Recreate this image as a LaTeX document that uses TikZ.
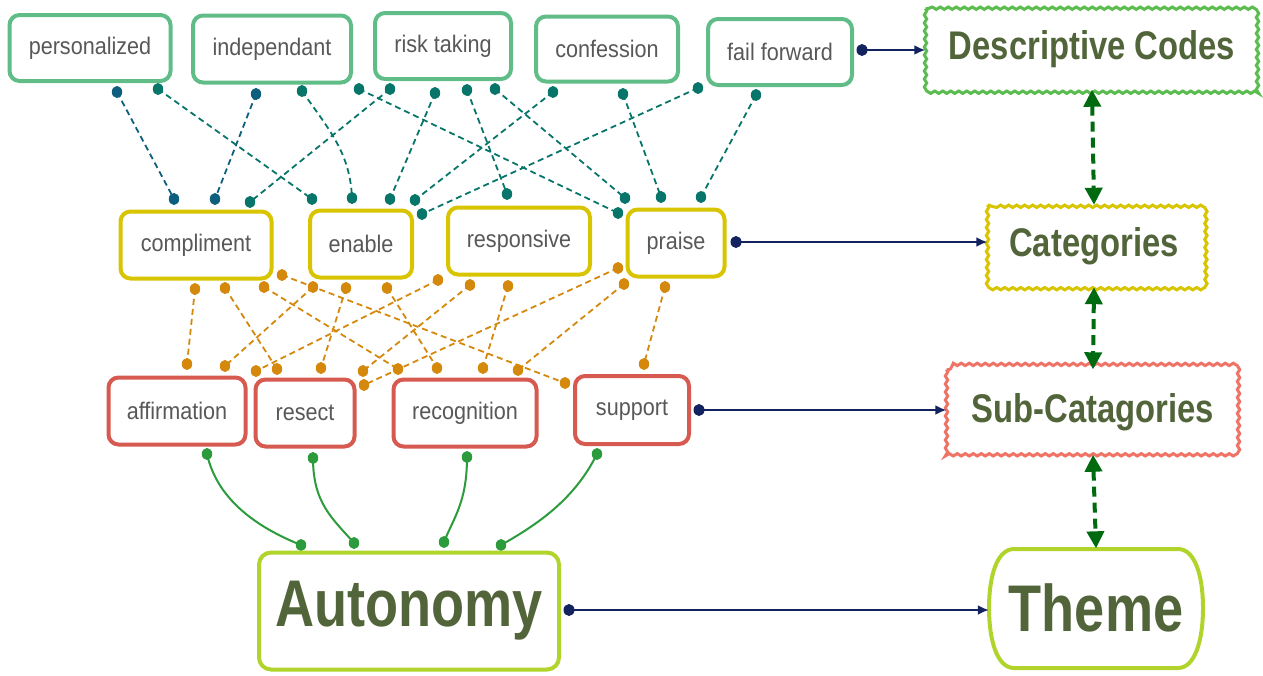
\documentclass[tikz,border=0pt]{standalone}
\usepackage{fontspec}
\setmainfont{Liberation Sans}
\newfontfamily\labelfont[FakeStretch=0.9]{Liberation Sans}
\newfontfamily\headfont[FakeStretch=0.82]{Liberation Sans Bold}
\usetikzlibrary{arrows.meta,decorations.pathmorphing}

\definecolor{codegreen}{HTML}{61BD88}
\definecolor{catyellow}{HTML}{D8C400}
\definecolor{subred}{HTML}{D65A50}
\definecolor{themelime}{HTML}{B1D42C}
\definecolor{cloudgreen}{HTML}{5CBC50}
\definecolor{cloudsalmon}{HTML}{EF7468}
\definecolor{headolive}{HTML}{52653A}
\definecolor{txtgray}{HTML}{585858}
\definecolor{tealline}{HTML}{08756A}
\definecolor{blueteal}{HTML}{0E5F7D}
\definecolor{ochre}{HTML}{D4880C}
\definecolor{leafgreen}{HTML}{2B9B3B}
\definecolor{navy}{HTML}{13235F}
\definecolor{darkgreen}{HTML}{006A10}

\tikzset{
  box/.style={line width=4pt, rounded corners=10pt, fill=white, inner sep=0pt,
    font={\labelfont\fontsize{24}{28}\selectfont}, text=txtgray, minimum height=67pt},
  codebox/.style={box, draw=codegreen},
  catbox/.style={box, draw=catyellow},
  subbox/.style={box, draw=subred},
  cloudlabel/.style={inner sep=0pt,
    font={\headfont\fontsize{40}{46}\selectfont}, text=headolive},
  cloudrim/.style={line width=3pt, fill=white,
    decorate, decoration={snake, segment length=8pt, amplitude=1.2pt}},
  biglabel/.style={inner sep=0pt,
    font={\headfont\fontsize{66}{72}\selectfont}, text=headolive},
  bigbox/.style={biglabel, draw=themelime, line width=4pt, fill=white},
  tealdash/.style={draw=tealline, line width=1.8pt, dash pattern=on 6pt off 4pt},
  bluedash/.style={draw=blueteal, line width=1.8pt, dash pattern=on 6pt off 4pt},
  ochredash/.style={draw=ochre, line width=1.8pt, dash pattern=on 6pt off 4pt},
  leafline/.style={draw=leafgreen, line width=2pt},
  navyarrow/.style={draw=navy, line width=2pt, -{Latex[length=11pt,width=10pt]}},
  levelarrow/.style={draw=darkgreen, line width=4pt, dash pattern=on 10pt off 6pt,
    {Triangle[length=17pt,width=17pt]}-{Triangle[length=17pt,width=17pt]}},
  enddot/.style={x radius=5.2pt, y radius=6pt},
}

\begin{document}
\begin{tikzpicture}[x=1pt,y=-1pt]
\useasboundingbox (0,0) rectangle (1263,675);

% ---- connector end points ----
\foreach \n/\x/\y in {
  t1a/117/92, t1b/174/199, t2a/158/89, t2b/312/199, t3a/256/94, t3b/215/199,
  t4a/302/91, t4b/352/198, t5a/359/89, t5b/618/213, t6a/390/89, t6b/250/202,
  t7a/435/93, t7b/390/199, t8a/467/90, t8b/507/194, t9a/495/89, t9b/625/198,
  t10a/553/92, t10b/415/200, t11a/623/94, t11b/661/197, t12a/698/88, t12b/422/214,
  t13a/756/95, t13b/701/197,
  o1a/195/289, o1b/187/364, o2a/225/288, o2b/277/369, o3a/264/287, o3b/398/369,
  o4a/282/275, o4b/565/383, o5a/313/287, o5b/225/366, o6a/346/288, o6b/321/368,
  o7a/387/288, o7b/437/368, o8a/438/280, o8b/256/371, o9a/470/285, o9b/363/371,
  o10a/508/286, o10b/483/368, o11a/618/268, o11b/364/385, o12a/624/284, o12b/518/370,
  o13a/665/287, o13b/644/364,
  g1a/207/454, g1b/301/545, g2a/313/458, g2b/354/543, g3a/467/457, g3b/444/542,
  g4a/597/454, g4b/501/545,
  b1/862/50, b2/736/242, b3/699/410, b4/569/610}
  \coordinate (\n) at (\x,\y);

% ---- dashed links: descriptive codes to categories ----
\draw[bluedash] (t1a) -- (t1b);
\draw[bluedash] (t3a) -- (t3b);
\foreach \i in {2,5,6,7,8,9,10,11,12,13}
  \draw[tealdash] (t\i a) -- (t\i b);
\draw[tealdash] (t4a) .. controls +(28,40) and +(-2,-45) .. (t4b);

% ---- dashed links: categories to sub-categories ----
\foreach \i in {1,...,13}
  \draw[ochredash] (o\i a) -- (o\i b);

% ---- links: sub-categories to the theme ----
\draw[leafline] (g1a) .. controls +(10,45) and +(-45,-18) .. (g1b);
\draw[leafline] (g2a) .. controls +(0,45) and +(-22,-25) .. (g2b);
\draw[leafline] (g3a) .. controls +(0,45) and +(10,-25) .. (g3b);
\draw[leafline] (g4a) .. controls +(-20,40) and +(45,-25) .. (g4b);

% ---- end dots ----
\foreach \n in {t1a,t1b,t3a,t3b}
  \fill[blueteal] (\n) ellipse [enddot];
\foreach \i in {2,4,5,6,7,8,9,10,11,12,13}{
  \fill[tealline] (t\i a) ellipse [enddot];
  \fill[tealline] (t\i b) ellipse [enddot];}
\foreach \i in {1,...,13}{
  \fill[ochre] (o\i a) ellipse [enddot];
  \fill[ochre] (o\i b) ellipse [enddot];}
\foreach \i in {1,...,4}{
  \fill[leafgreen] (g\i a) ellipse [enddot];
  \fill[leafgreen] (g\i b) ellipse [enddot];}

% ---- descriptive codes ----
\node[codebox, minimum width=161pt, minimum height=66pt] (pers)  at (90,48)  {personalized};
\node[codebox, minimum width=158pt] (indep) at (272,49) {independant};
\node[codebox, minimum width=136pt, minimum height=66pt] (risk)  at (443,46) {risk taking};
\node[codebox, minimum width=142pt, minimum height=65pt] (conf)  at (607,49) {confession};
\node[codebox, minimum width=144pt, minimum height=66pt] (fail)  at (780,52) {fail forward};

% ---- categories ----
\node[catbox, minimum width=151pt] (compl)  at (196,245) {compliment};
\node[catbox, minimum width=102pt] (enable) at (361,244) {enable};
\node[catbox, minimum width=142pt] (resp)   at (519,241) {responsive};
\node[catbox, minimum width=97pt]  (praise) at (676,243) {praise};

% ---- sub-categories ----
\node[subbox, minimum width=137pt] (affirm) at (177,411) {affirmation};
\node[subbox, minimum width=99pt]  (resect) at (305,413) {resect};
\node[subbox, minimum width=143pt] (recog)  at (465,413) {recognition};
\node[subbox, minimum width=114pt, minimum height=68pt] (support) at (632,410) {support};

% ---- theme ----
\node[bigbox, rounded corners=12pt, minimum width=300pt, minimum height=117pt] (auto) at (409,611) {Autonomy};

% ---- legend column: crinkled frames ----
\draw[cloudrim, draw=cloudgreen]  (925.5,8.5) rectangle (1258.5,89.5);
\draw[cloudrim, draw=catyellow]   (987.5,205) rectangle (1200.5,287);
\draw[cloudrim, draw=cloudsalmon] (946.5,369.5) rectangle (1239.5,454.5);
\node[cloudlabel, minimum width=333pt, minimum height=81pt] (desc) at (1092,49) {Descriptive Codes};
\node[cloudlabel, minimum width=213pt, minimum height=82pt] (cat) at (1094,246) {Categories};
\node[cloudlabel, minimum width=293pt, minimum height=85pt] (sub) at (1093,412) {Sub-Catagories};

% barrel-shaped frame of the theme label
\draw[themelime, line width=4pt, fill=white]
  (1014,549) -- (1178,549)
  .. controls (1195,549) and (1203,576) .. (1203,608)
  .. controls (1203,640) and (1195,668) .. (1178,668)
  -- (1014,668)
  .. controls (997,668) and (989,640) .. (989,608)
  .. controls (989,576) and (997,549) .. (1014,549) -- cycle;
\node[biglabel, minimum width=214pt, minimum height=119pt] (theme) at (1096,608) {Theme};

\draw[levelarrow] (desc.south) -- (cat.north);
\draw[levelarrow] (cat.south) -- (sub.north);
\draw[levelarrow] (sub.south) -- (theme.north);

% ---- level arrows ----
\draw[navyarrow] (b1) -- (desc.west |- b1);
\draw[navyarrow] (b2) -- (cat.west |- b2);
\draw[navyarrow] (b3) -- (sub.west |- b3);
\draw[navyarrow] (b4) -- (theme.west |- b4);
\foreach \n in {b1,b2,b3,b4}
  \fill[navy] (\n) ellipse [x radius=5.5pt, y radius=6pt];

\end{tikzpicture}
\end{document}
